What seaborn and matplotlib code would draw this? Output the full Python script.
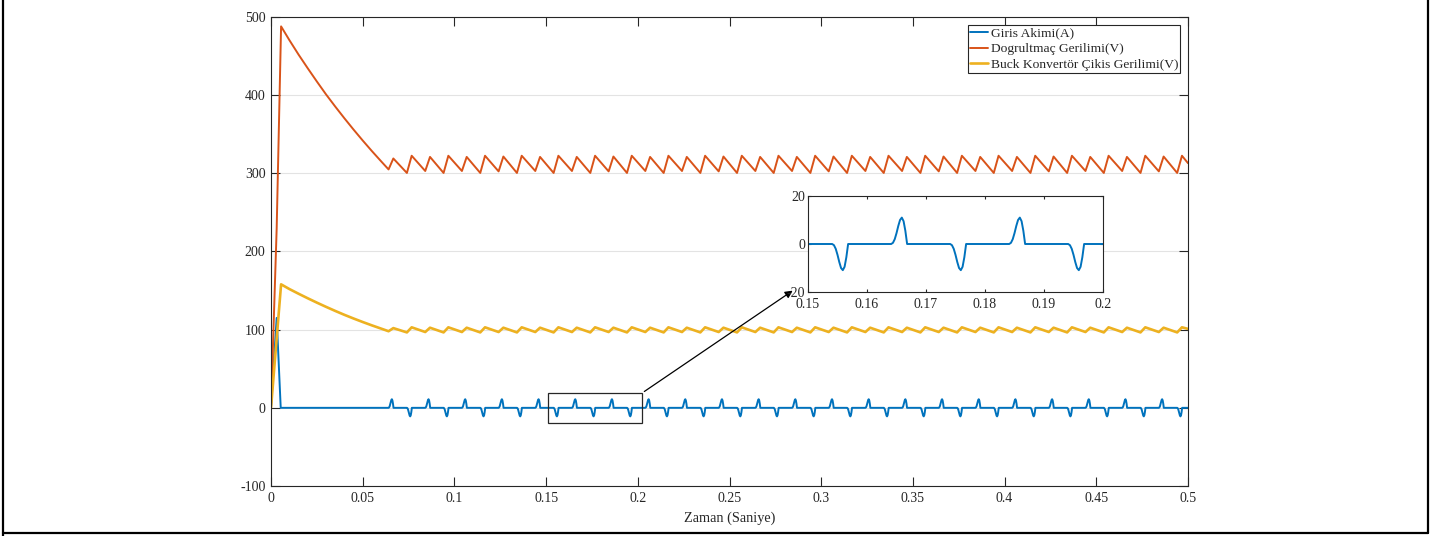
import pandas as pd
import seaborn as sns
import matplotlib.pyplot as plt
from matplotlib.lines import Line2D
from matplotlib.patches import Rectangle

# ---- data (time in seconds) ----
# current spike at start-up
blue_start_t = [0.0, 0.0031, 0.0053]
blue_start_v = [0.0, 115.0, 0.0]

# one current pulse, offsets from its start and values in A
pulse_dt = [0.0, 0.0003, 0.0006, 0.0009, 0.0012, 0.0015, 0.0018, 0.0021, 0.0024, 0.0026, 0.0027]
pos_shape = [0.0, 0.5, 2.0, 4.5, 7.5, 10.0, 11.0, 9.5, 5.5, 2.0, 0.0]
neg_shape = [0.0, -0.5, -2.0, -4.5, -7.5, -10.0, -10.9, -9.5, -5.5, -2.0, 0.0]

# pulse start times
pos_start = [0.0641, 0.0841, 0.1041, 0.1241, 0.1441, 0.1641, 0.1841, 0.2041, 0.2241, 0.2441, 0.2641,
             0.2841, 0.3041, 0.3241, 0.3441, 0.3641, 0.3841, 0.4041, 0.4241, 0.4441, 0.4641, 0.4841]
neg_start = [0.0741, 0.0941, 0.1141, 0.1341, 0.1541, 0.1741, 0.1941, 0.2141, 0.2341, 0.2541, 0.2741,
             0.2941, 0.3141, 0.3341, 0.3541, 0.3741, 0.3941, 0.4141, 0.4341, 0.4541, 0.4741, 0.4941]
charge_time = 0.0026  # trough -> peak during a pulse

# rectifier voltage: start-up peak and discharge
red_head_t = [0.0, 0.0031, 0.0055, 0.010, 0.015, 0.020, 0.025, 0.030, 0.035, 0.040,
              0.045, 0.050, 0.055, 0.060]
red_head_v = [0.0, 230.0, 488.0, 470.5, 452.0, 434.5, 417.5, 401.0, 385.5, 370.5,
              356.0, 342.0, 328.5, 315.5]
red_trough_pos = [305.0, 303.0, 303.0, 302.5, 303.0, 303.0, 302.5, 303.0, 303.0, 302.5, 303.0,
                  303.0, 302.5, 303.0, 303.0, 302.5, 303.0, 303.0, 302.5, 303.0, 303.0, 302.5]
red_peak_pos = [319.0, 321.0, 321.0, 321.5, 321.0, 321.0, 321.5, 321.0, 321.0, 321.5, 321.0,
                321.0, 321.5, 321.0, 321.0, 321.5, 321.0, 321.0, 321.5, 321.0, 321.0, 321.5]
red_trough_neg = [300.5, 300.5, 300.5, 300.5, 300.5, 300.5, 300.5, 300.5, 300.5, 300.5, 300.5,
                  300.5, 300.5, 300.5, 300.5, 300.5, 300.5, 300.5, 300.5, 300.5, 300.5, 300.5]
red_peak_neg = [322.5, 322.5, 322.5, 322.5, 322.5, 322.5, 322.5, 322.5, 322.5, 322.5, 322.5,
                322.5, 322.5, 322.5, 322.5, 322.5, 322.5, 322.5, 322.5, 322.5, 322.5, 322.5]
red_end = 313.0

# buck converter output voltage
yel_head_t = [0.0, 0.0055, 0.010, 0.015, 0.020, 0.025, 0.030, 0.035, 0.040,
              0.045, 0.050, 0.055, 0.060]
yel_head_v = [0.0, 158.0, 152.0, 146.0, 140.2, 134.6, 129.2, 124.0, 119.0,
              114.3, 109.8, 105.5, 101.4]
yel_trough_pos = [98.0, 97.0, 97.0, 97.0, 97.0, 97.0, 97.0, 97.0, 97.0, 97.0, 97.0,
                  97.0, 97.0, 97.0, 97.0, 97.0, 97.0, 97.0, 97.0, 97.0, 97.0, 97.0]
yel_peak_pos = [102.0, 102.5, 102.5, 102.5, 102.5, 102.5, 102.5, 102.5, 102.5, 102.5, 102.5,
                102.5, 102.5, 102.5, 102.5, 102.5, 102.5, 102.5, 102.5, 102.5, 102.5, 102.5]
yel_trough_neg = [96.5, 96.5, 96.5, 96.5, 96.5, 96.5, 96.5, 96.5, 96.5, 96.5, 96.5,
                  96.5, 96.5, 96.5, 96.5, 96.5, 96.5, 96.5, 96.5, 96.5, 96.5, 96.5]
yel_peak_neg = [103.0, 103.0, 103.0, 103.0, 103.0, 103.0, 103.0, 103.0, 103.0, 103.0, 103.0,
                103.0, 103.0, 103.0, 103.0, 103.0, 103.0, 103.0, 103.0, 103.0, 103.0, 103.0]
yel_end = 101.0

labels = ['Giris Akimi(A)', 'Dogrultmaç Gerilimi(V)', 'Buck Konvertör Çikis Gerilimi(V)']
x_ticks = [0, 0.05, 0.1, 0.15, 0.2, 0.25, 0.3, 0.35, 0.4, 0.45, 0.5]
x_tick_labels = ['0', '0.05', '0.1', '0.15', '0.2', '0.25', '0.3', '0.35', '0.4', '0.45', '0.5']
y_ticks = [-100, 0, 100, 200, 300, 400, 500]
in_x_ticks = [0.15, 0.16, 0.17, 0.18, 0.19, 0.2]
in_x_labels = ['0.15', '0.16', '0.17', '0.18', '0.19', '0.2']
in_y_ticks = [-20, 0, 20]

colors = ['#0072BD', '#D95319', '#EDB120']


def current_frame():
    t = list(blue_start_t)
    v = list(blue_start_v)
    for ps, ns in zip(pos_start, neg_start):
        t += [ps + d for d in pulse_dt]
        v += pos_shape
        t += [ns + d for d in pulse_dt]
        v += neg_shape
    t.append(0.5)
    v.append(0.0)
    return pd.DataFrame({'t': t, 'v': v})


def voltage_frame(head_t, head_v, tr_pos, pk_pos, tr_neg, pk_neg, end_v):
    t = list(head_t)
    v = list(head_v)
    for i, (ps, ns) in enumerate(zip(pos_start, neg_start)):
        t += [ps, ps + charge_time, ns, ns + charge_time]
        v += [tr_pos[i], pk_pos[i], tr_neg[i], pk_neg[i]]
    t.append(0.5)
    v.append(end_v)
    return pd.DataFrame({'t': t, 'v': v})


def style_axes(ax, tick_len):
    for sp in ax.spines.values():
        sp.set_color('#262626')
        sp.set_linewidth(0.8)
    ax.tick_params(direction='in', top=True, right=True, bottom=True, left=True,
                   length=tick_len, width=0.8, color='#262626', labelsize=10,
                   labelcolor='#262626', pad=4)


def main():
    sns.set_theme(style='white')
    plt.rcParams['font.family'] = ['Liberation Serif', 'DejaVu Serif']

    df_i = current_frame()
    df_r = voltage_frame(red_head_t, red_head_v, red_trough_pos, red_peak_pos,
                         red_trough_neg, red_peak_neg, red_end)
    df_y = voltage_frame(yel_head_t, yel_head_v, yel_trough_pos, yel_peak_pos,
                         yel_trough_neg, yel_peak_neg, yel_end)

    fig = plt.figure(figsize=(14.4, 5.36), dpi=100)
    ax = fig.add_axes([271 / 1440, 50 / 536, 917 / 1440, 469 / 536])

    sns.lineplot(data=df_i, x='t', y='v', ax=ax, color=colors[0], lw=1.4,
                 sort=False, estimator=None, label=labels[0])
    sns.lineplot(data=df_r, x='t', y='v', ax=ax, color=colors[1], lw=1.4,
                 sort=False, estimator=None, label=labels[1])
    sns.lineplot(data=df_y, x='t', y='v', ax=ax, color=colors[2], lw=1.9,
                 sort=False, estimator=None, label=labels[2])

    ax.set_xlim(0, 0.5)
    ax.set_ylim(-100, 500)
    ax.set_xticks(x_ticks)
    ax.set_xticklabels(x_tick_labels)
    ax.set_yticks(y_ticks)
    ax.set_yticklabels([str(v) for v in y_ticks])
    ax.yaxis.grid(True, color='#e3e3e3', lw=0.8)
    ax.set_axisbelow(True)
    ax.set_xlabel('Zaman (Saniye)', fontsize=10.3, color='#262626', labelpad=5)
    ax.set_ylabel('')
    style_axes(ax, 6.5)

    leg = ax.legend(loc='upper right', bbox_to_anchor=(0.9913, 0.983), borderaxespad=0,
                    fontsize=9.7, frameon=True, fancybox=False, framealpha=1,
                    edgecolor='#262626', handlelength=1.4, handletextpad=0.15,
                    borderpad=0.15, labelspacing=0.25)
    leg.get_frame().set_linewidth(0.8)

    # zoom box and arrow
    ax.add_patch(Rectangle((0.151, -19.5), 0.0513, 39.0, fill=False,
                           edgecolor='#262626', lw=0.9, zorder=5))
    ax.annotate('', xy=(0.2857, 151.9), xytext=(0.2023, 18.9),
                arrowprops=dict(arrowstyle='-|>', color='black', lw=0.9,
                                mutation_scale=11), annotation_clip=False)

    # inset
    ax_in = fig.add_axes([808 / 1440, 244 / 536, 295 / 1440, 96 / 536])
    sns.lineplot(data=df_i, x='t', y='v', ax=ax_in, color=colors[0], lw=1.4,
                 sort=False, estimator=None, legend=False)
    ax_in.set_xlim(0.15, 0.2)
    ax_in.set_ylim(-20, 20)
    ax_in.set_xticks(in_x_ticks)
    ax_in.set_xticklabels(in_x_labels)
    ax_in.set_yticks(in_y_ticks)
    ax_in.set_yticklabels([str(v) for v in in_y_ticks])
    ax_in.set_xlabel('')
    ax_in.set_ylabel('')
    ax_in.set_facecolor('white')
    style_axes(ax_in, 2.5)
    ax_in.tick_params(axis='x', pad=4.5)
    ax_in.tick_params(axis='y', pad=2)

    # figure border (left, bottom, right)
    for xs, ys in [([0.002, 0.002], [0.0, 1.0]),
                   ([0.002, 1428 / 1440], [0.006, 0.006]),
                   ([1428 / 1440, 1428 / 1440], [0.006, 1.0])]:
        fig.add_artist(Line2D(xs, ys, transform=fig.transFigure, color='black', lw=1.6))

    fig.savefig('out.png', dpi=100)
    plt.close(fig)


if __name__ == "__main__":
    main()
